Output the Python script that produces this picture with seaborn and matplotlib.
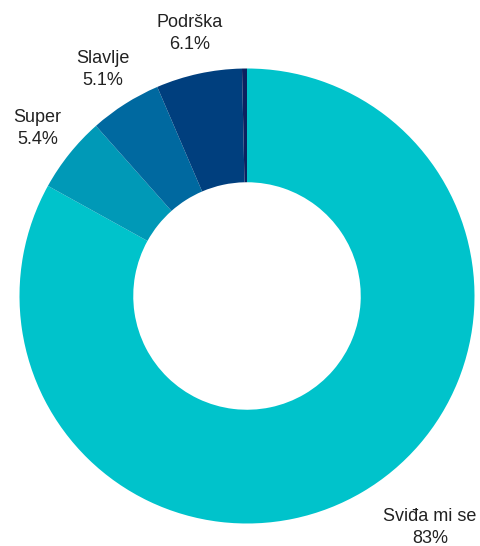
import matplotlib
matplotlib.use("Agg")
import matplotlib.pyplot as plt
import seaborn as sns

# slices, clockwise from the top
labels = ["Sviđa mi se", "Super", "Slavlje", "Podrška", ""]
values = [83.0, 5.4, 5.1, 6.1, 0.35]
pct_text = ["83%", "5.4%", "5.1%", "6.1%", ""]
colors = ["#00c3cb", "#0099b7", "#0069a0", "#003f7e", "#0b2260"]

sns.set_theme(style="white")
plt.rcParams["font.family"] = ["Liberation Sans", "DejaVu Sans"]

fig = plt.figure(figsize=(4.81, 5.46), dpi=100)
ax = fig.add_axes([19.5 / 481, 22.5 / 546, 455 / 481, 455 / 546])

texts_in = [f"{l}\n{p}" if l else "" for l, p in zip(labels, pct_text)]
wedges, texts = ax.pie(
    values,
    labels=texts_in,
    colors=colors,
    startangle=90,
    counterclock=False,
    labeldistance=1.18,
    wedgeprops=dict(width=0.5, linewidth=0),
    textprops=dict(fontsize=13, color="#222222", linespacing=1.4),
)
for t in texts:
    t.set_verticalalignment("center")
    t.set_multialignment("center")
    if t.get_position()[0] < 0:
        t.set_horizontalalignment("center")

ax.set_xlim(-1, 1)
ax.set_ylim(-1, 1)
ax.set_aspect("equal")
ax.axis("off")

fig.savefig("out.png", dpi=100)
